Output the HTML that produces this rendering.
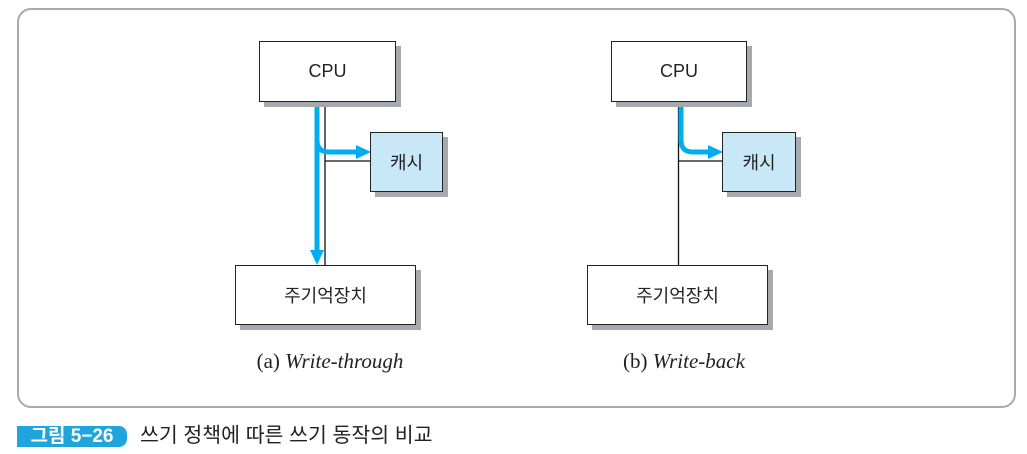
<!DOCTYPE html>
<html><head><meta charset="utf-8"><style>
body{margin:0;width:1027px;height:454px;background:#fff;position:relative;overflow:hidden;font-family:"Liberation Sans","Noto Sans CJK KR",sans-serif}
.frame{position:absolute;left:17px;top:8px;width:995px;height:396px;border:2px solid #aaa;border-radius:14px}
.box{position:absolute;border:1.5px solid #222;background:#fff;box-shadow:5px 5px 0 #a7a9ac;display:flex;align-items:center;justify-content:center;font-size:18px;color:#222;box-sizing:border-box}
.cache{background:#c8e8f8}
.cap{position:absolute;font-family:"Liberation Serif",serif;font-size:21px;color:#222;text-align:center;width:300px}
</style></head><body>
<div class="frame"></div>
<svg width="1027" height="454" style="position:absolute;left:0;top:0">
<g stroke="#111" stroke-width="1.3" fill="none">
<line x1="325" y1="101" x2="325" y2="265"/><line x1="325" y1="161" x2="370" y2="161"/>
<line x1="678.5" y1="101" x2="678.5" y2="265"/><line x1="678.5" y1="161" x2="722" y2="161"/>
</g>
<g stroke="#00aeef" stroke-width="5" fill="none">
<line x1="317" y1="101" x2="317" y2="252"/>
<path d="M317 140 Q317 152 329 152 L358 152"/>
<path d="M681 101 L681 140 Q681 152 693 152 L710 152"/>
</g>
<g fill="#00aeef">
<polygon points="310,250 324,250 317,265"/>
<polygon points="356,145 356,159 371,152"/>
<polygon points="708,145 708,159 723,152"/>
</g>
</svg>
<div class="box" style="left:259px;top:41px;width:137px;height:61px">CPU</div>
<div class="box cache" style="left:370px;top:132px;width:73px;height:60px">캐시</div>
<div class="box" style="left:235px;top:265px;width:181px;height:60px">주기억장치</div>
<div class="box" style="left:611px;top:41px;width:136px;height:61px">CPU</div>
<div class="box cache" style="left:722px;top:132px;width:74px;height:60px">캐시</div>
<div class="box" style="left:587px;top:265px;width:181px;height:60px">주기억장치</div>
<div class="cap" style="left:180px;top:349px">(a) <i>Write-through</i></div>
<div class="cap" style="left:534px;top:349px">(b) <i>Write-back</i></div>
<div style="position:absolute;left:17px;top:426px;width:110px;height:21px;background:#1fa5dc;border-radius:0 8px 8px 0;color:#fff;font-weight:bold;font-size:19px;line-height:21px;text-align:center">그림 5−26</div>
<div style="position:absolute;left:140px;top:423px;font-size:20.5px;color:#222;line-height:26px">쓰기 정책에 따른 쓰기 동작의 비교</div>
</body></html>
